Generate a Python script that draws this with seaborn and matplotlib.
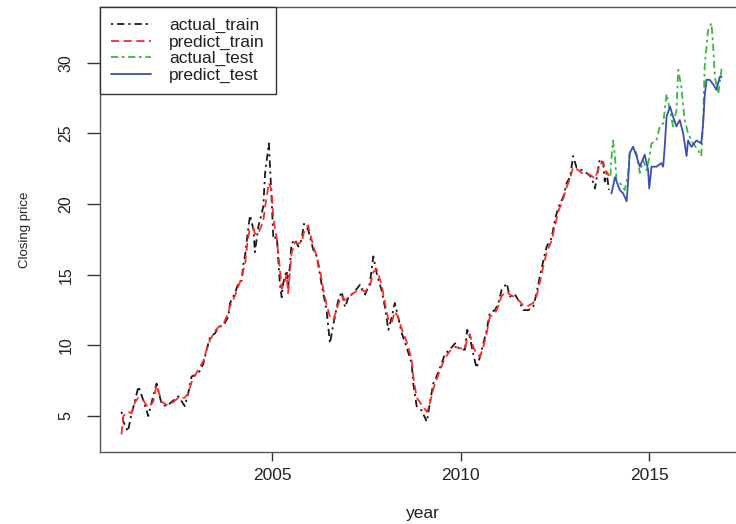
import matplotlib
matplotlib.use("Agg")
import matplotlib.pyplot as plt
import seaborn as sns
import pandas as pd

# actual closing prices, training period
train_year = [2001.00, 2001.05, 2001.17, 2001.27, 2001.36, 2001.45, 2001.58, 2001.71, 2001.84, 2001.93,
              2002.07, 2002.20, 2002.33, 2002.51, 2002.68, 2002.77, 2002.86, 2003.04, 2003.17, 2003.26,
              2003.35, 2003.48, 2003.57, 2003.70, 2003.83, 2003.88, 2004.01, 2004.10, 2004.19, 2004.23,
              2004.28, 2004.35, 2004.41, 2004.50, 2004.54, 2004.63, 2004.76, 2004.81, 2004.91, 2004.98,
              2005.03, 2005.12, 2005.20, 2005.25, 2005.29, 2005.38, 2005.42, 2005.51, 2005.60, 2005.69,
              2005.78, 2005.84, 2005.95, 2006.09, 2006.18, 2006.27, 2006.35, 2006.44, 2006.53, 2006.62,
              2006.75, 2006.84, 2006.93, 2007.02, 2007.15, 2007.33, 2007.46, 2007.59, 2007.68, 2007.77,
              2007.90, 2007.99, 2008.08, 2008.17, 2008.25, 2008.34, 2008.43, 2008.56, 2008.70, 2008.74,
              2008.83, 2008.96, 2009.10, 2009.18, 2009.27, 2009.36, 2009.49, 2009.58, 2009.71, 2009.85,
              2009.98, 2010.11, 2010.17, 2010.24, 2010.33, 2010.42, 2010.51, 2010.60, 2010.69, 2010.77,
              2010.91, 2011.00, 2011.08, 2011.22, 2011.30, 2011.44, 2011.57, 2011.66, 2011.79, 2011.92,
              2012.01, 2012.10, 2012.19, 2012.28, 2012.41, 2012.50, 2012.59, 2012.72, 2012.81, 2012.90,
              2012.98, 2013.07, 2013.21, 2013.34, 2013.47, 2013.56, 2013.69, 2013.78, 2013.82, 2013.87,
              2013.93]
actual_train = [5.3, 4.6, 3.9, 5.2, 6.1, 7.1, 6.1, 5.0, 6.4, 7.3,
                5.8, 5.7, 6.0, 6.4, 5.7, 6.6, 7.8, 8.0, 8.7, 9.7,
                10.6, 10.85, 11.3, 11.4, 12.0, 13.0, 13.7, 14.4, 14.6, 15.7,
                16.4, 18.0, 19.2, 18.2, 16.6, 18.4, 19.8, 22.2, 24.3, 20.5,
                17.5, 17.7, 14.4, 13.4, 14.4, 15.3, 14.0, 17.2, 17.5, 17.0,
                17.5, 18.6, 18.2, 16.75, 16.3, 14.9, 13.7, 12.5, 10.15, 11.5,
                13.2, 13.8, 12.7, 13.4, 13.7, 14.3, 13.6, 14.4, 16.3, 15.1,
                13.9, 12.7, 11.1, 12.0, 13.0, 12.0, 10.9, 9.9, 8.7, 7.3,
                5.7, 5.4, 4.6, 5.9, 7.3, 7.8, 8.7, 9.4, 9.7, 10.15,
                9.7, 9.7, 11.1, 10.6, 9.4, 8.4, 9.2, 10.15, 11.1, 12.3,
                12.5, 13.0, 13.9, 14.4, 13.45, 13.6, 13.0, 12.5, 12.5, 12.7,
                13.7, 14.9, 16.0, 17.0, 17.6, 18.9, 19.8, 20.5, 21.5, 21.9,
                23.4, 22.6, 22.4, 22.2, 21.9, 21.1, 23.2, 22.9, 21.6, 22.2,
                21.0]
# model fit over the training period
predict_train = [3.7, 5.0, 5.3, 5.2, 6.0, 6.3, 6.1, 5.6, 6.0, 7.2,
                 6.0, 5.8, 5.9, 6.3, 6.3, 6.6, 7.4, 8.3, 8.9, 9.7,
                 10.4, 11.0, 11.3, 11.5, 12.3, 12.8, 13.5, 14.2, 14.8, 15.3,
                 15.8, 17.5, 18.3, 18.3, 17.9, 17.9, 18.8, 19.8, 21.5, 21.0,
                 19.0, 17.5, 15.5, 14.0, 14.2, 15.0, 13.7, 16.5, 17.3, 17.2,
                 17.3, 18.0, 18.5, 17.0, 16.3, 15.3, 14.0, 12.9, 12.0, 11.8,
                 12.9, 13.5, 13.2, 13.4, 13.7, 14.0, 13.8, 14.2, 15.2, 15.4,
                 14.3, 13.0, 11.8, 11.6, 12.4, 12.0, 11.2, 10.3, 9.0, 7.8,
                 6.3, 5.8, 5.3, 5.9, 6.9, 7.6, 8.5, 9.1, 9.6, 9.9,
                 9.8, 9.7, 10.5, 10.8, 9.9, 9.4, 9.2, 9.9, 10.9, 12.0,
                 12.3, 12.8, 13.5, 13.8, 13.6, 13.4, 13.1, 12.8, 12.8, 13.0,
                 13.5, 14.5, 15.6, 16.6, 17.4, 18.5, 19.5, 20.4, 21.2, 21.8,
                 22.6, 22.5, 22.2, 22.2, 22.0, 21.8, 22.8, 23.0, 22.3, 22.3,
                 22.0]

# actual closing prices, test period
test_year_actual = [2013.97, 2014.00, 2014.04, 2014.09, 2014.13, 2014.22, 2014.35, 2014.44, 2014.48, 2014.57,
                    2014.66, 2014.75, 2014.84, 2014.93, 2015.01, 2015.06, 2015.19, 2015.28, 2015.37, 2015.41,
                    2015.46, 2015.55, 2015.63, 2015.72, 2015.77, 2015.85, 2015.94, 2016.03, 2016.16, 2016.30,
                    2016.38, 2016.43, 2016.47, 2016.56, 2016.65, 2016.69, 2016.74, 2016.83, 2016.92]
actual_test = [22.0, 23.4, 24.5, 23.4, 21.7, 21.5, 21.0, 22.2, 23.6, 24.05,
               23.6, 22.2, 23.1, 22.4, 23.4, 24.3, 24.5, 25.5, 25.7, 26.65,
               27.8, 26.65, 25.5, 26.65, 29.5, 28.3, 25.95, 25.0, 24.3, 23.8,
               23.4, 25.95, 29.7, 32.3, 32.8, 31.4, 29.0, 27.8, 29.6]

# model forecast over the test period
test_year_pred = [2014.00, 2014.09, 2014.22, 2014.31, 2014.40, 2014.44, 2014.48, 2014.57, 2014.66, 2014.75,
                  2014.88, 2014.97, 2015.00, 2015.06, 2015.19, 2015.32, 2015.37, 2015.41, 2015.46, 2015.55,
                  2015.63, 2015.72, 2015.81, 2015.90, 2015.99, 2016.03, 2016.12, 2016.25, 2016.38, 2016.43,
                  2016.47, 2016.52, 2016.60, 2016.69, 2016.78, 2016.87, 2016.92]
predict_test = [20.75, 21.9, 21.0, 20.75, 20.2, 21.6, 23.6, 24.05, 23.4, 22.65,
                23.5, 22.4, 21.1, 22.65, 22.65, 22.9, 22.65, 24.05, 26.2, 26.9,
                26.2, 25.5, 25.95, 25.0, 23.4, 24.5, 24.05, 24.5, 24.3, 25.7,
                27.6, 28.8, 28.8, 28.5, 28.1, 29.0, 29.0]

x_ticks = [2005, 2010, 2015]
y_ticks = [5, 10, 15, 20, 25, 30]

sns.set_style("white")
plt.rcParams["font.family"] = ["Liberation Sans", "DejaVu Sans"]

fig = plt.figure(figsize=(7.36, 5.24), dpi=100)
ax = fig.add_axes([100 / 736, 1 - 452 / 524, 645 / 736, 445.3 / 524])

series = [
    (train_year, actual_train, "actual_train", "#1a1a1a", (0, (1.2, 2.2, 4.0, 2.2))),
    (train_year, predict_train, "predict_train", "#ff2b2b", (0, (4.5, 2.5))),
    (test_year_actual, actual_test, "actual_test", "#3cb83c", (0, (4.0, 2.0, 1.5, 2.0))),
    (test_year_pred, predict_test, "predict_test", "#3b50b2", "-"),
]
for xs, ys, name, col, ls in series:
    df = pd.DataFrame({"year": xs, "price": ys})
    sns.lineplot(data=df, x="year", y="price", ax=ax, color=col, linestyle=ls,
                 linewidth=1.3, sort=False, estimator=None, label=name)

ax.set_xlim(2000.43, 2017.54)
ax.set_ylim(2.456, 33.97)
ax.set_xticks(x_ticks)
ax.set_yticks(y_ticks)
ax.set_xticklabels([str(t) for t in x_ticks], fontsize=12.5, color="#222222")
ax.set_yticklabels([str(t) for t in y_ticks], fontsize=11.5, color="#222222",
                   rotation=90, va="center")
ax.tick_params(axis="x", bottom=True, direction="out", length=6.3, width=1.0,
               color="#333333", pad=5)
ax.tick_params(axis="y", left=True, direction="out", length=9.1, width=1.0,
               color="#333333", pad=10)
ax.set_xlabel("year", fontsize=12.5, color="#222222", labelpad=17)
ax.set_ylabel("Closing price", fontsize=9.5, color="#222222", labelpad=20)
for s in ax.spines.values():
    s.set_visible(True)
    s.set_color("#555555")
    s.set_linewidth(1.0)

leg = ax.legend(loc="upper left", bbox_to_anchor=(0, 1), borderaxespad=0, fontsize=12.5,
                frameon=True, fancybox=False, edgecolor="#333333", framealpha=1,
                handlelength=2.3, handletextpad=1.0, labelspacing=0.07,
                borderpad=0.66)
leg.get_frame().set_linewidth(1.0)
for t in leg.get_texts():
    t.set_color("#222222")

fig.savefig("out.png", dpi=100)
